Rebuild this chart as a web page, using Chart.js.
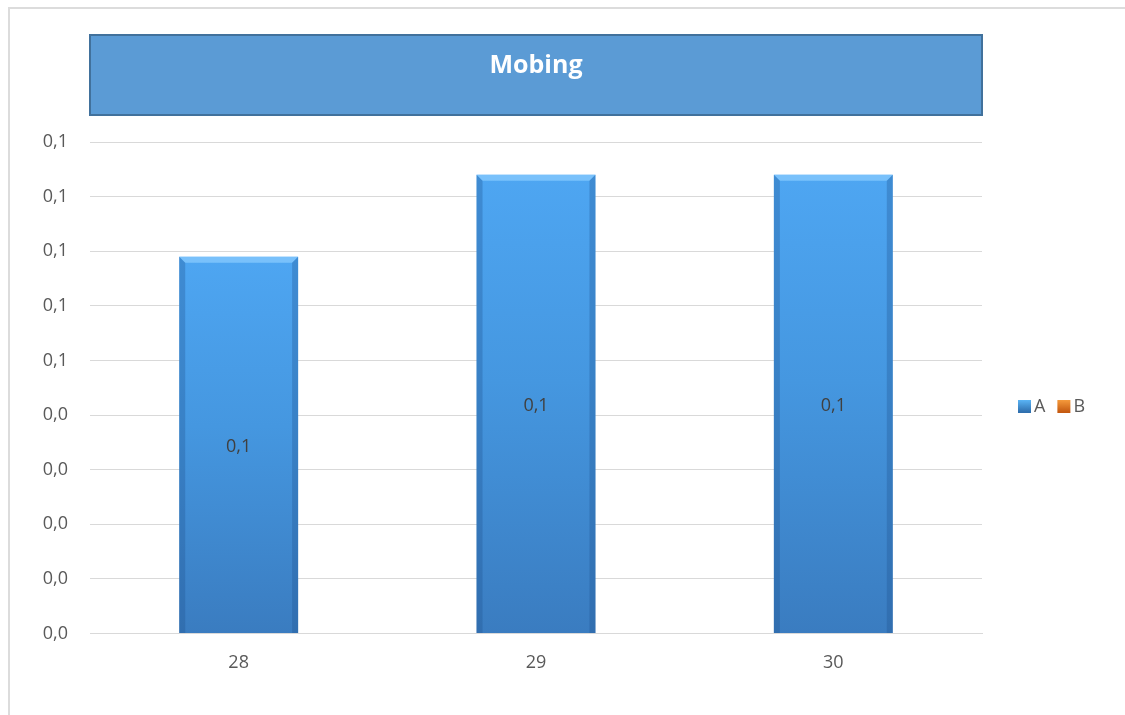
<!DOCTYPE html>
<html lang="en">
<head>
  <meta charset="UTF-8">
  <title>Mobing</title>
  <style>
    body { margin: 0; background: #fff; }
    .wrap { position: relative; width: 1125px; height: 715px; }
    .frame {
      position: absolute; left: 8px; top: 7px; right: 0; bottom: 0;
      border-top: 2px solid #dcdcdc; border-left: 2px solid #dcdcdc;
      pointer-events: none;
    }
  </style>
</head>
<body>
  <div class="wrap">
    <canvas id="myChart" width="1125" height="715"></canvas>
    <div class="frame"></div>
  </div>

<script src="https://cdn.jsdelivr.net/npm/chart.js"></script>
<script>
  const titulo = 'Mobing';
  const dias = ['28', '29', '30'];
  const valoresA = [0.069, 0.084, 0.084];
  const valoresB = [0, 0, 0];
  const yTicks = ['0,0', '0,0', '0,0', '0,0', '0,0', '0,1', '0,1', '0,1', '0,1', '0,1'];

  const fonte = '"Open Sans", "Liberation Sans", sans-serif';
  const virgula = v => v.toFixed(1).replace('.', ',');

  // degradê vertical de cada barra
  function corBarra(ctx) {
    const chart = ctx.chart;
    const y = chart.scales.y;
    if (!y || !chart.chartArea || ctx.raw == null) return '#4597e0';
    const top = y.getPixelForValue(ctx.raw);
    const base = y.getPixelForValue(0);
    if (!isFinite(top) || !isFinite(base) || top === base) return '#4597e0';
    const g = chart.ctx.createLinearGradient(0, top, 0, base);
    g.addColorStop(0, '#4ea6f2');
    g.addColorStop(0.45, '#4597e0');
    g.addColorStop(1, '#3a7cc0');
    return g;
  }

  // caixa azul do título
  const caixaTitulo = {
    id: 'caixaTitulo',
    beforeDraw(chart) {
      const c = chart.ctx, a = chart.chartArea;
      c.save();
      c.fillStyle = '#5b9bd5';
      c.fillRect(a.left, 35, a.right - a.left, 80);
      c.strokeStyle = '#41719c';
      c.lineWidth = 2;
      c.strokeRect(a.left, 35, a.right - a.left, 80);
      c.fillStyle = '#fff';
      c.font = 'bold 25px ' + fonte;
      c.textAlign = 'center';
      c.textBaseline = 'middle';
      c.fillText(titulo, (a.left + a.right) / 2, 66);
      c.restore();
    }
  };

  // chanfro das barras e rótulos de valor
  const chanfro = {
    id: 'chanfro',
    afterDatasetsDraw(chart) {
      const c = chart.ctx;
      const meta = chart.getDatasetMeta(0);
      c.save();
      meta.data.forEach((bar, i) => {
        const { x, y, base, width } = bar.getProps(['x', 'y', 'base', 'width'], true);
        const l = x - width / 2, r = x + width / 2, b = 6;
        // topo claro
        c.fillStyle = 'rgba(140,205,255,0.7)';
        c.beginPath();
        c.moveTo(l, y); c.lineTo(r, y); c.lineTo(r - b, y + b); c.lineTo(l + b, y + b);
        c.closePath(); c.fill();
        // laterais escuras
        c.fillStyle = 'rgba(30,80,140,0.3)';
        c.beginPath();
        c.moveTo(l, y); c.lineTo(l + b, y + b); c.lineTo(l + b, base); c.lineTo(l, base);
        c.closePath(); c.fill();
        c.beginPath();
        c.moveTo(r, y); c.lineTo(r - b, y + b); c.lineTo(r - b, base); c.lineTo(r, base);
        c.closePath(); c.fill();
        // rótulo
        c.fillStyle = '#404040';
        c.font = '18px ' + fonte;
        c.textAlign = 'center';
        c.textBaseline = 'middle';
        c.fillText(virgula(chart.data.datasets[0].data[i]), x, (y + base) / 2 + 2);
      });
      c.restore();
    }
  };

  // legenda à direita, itens lado a lado
  const legenda = {
    id: 'legenda',
    afterDraw(chart) {
      const c = chart.ctx, a = chart.chartArea;
      let x = a.right + 36;
      const yc = 406;
      c.save();
      c.font = '18px ' + fonte;
      c.textBaseline = 'middle';
      chart.data.datasets.forEach(ds => {
        const g = c.createLinearGradient(0, yc - 6, 0, yc + 6);
        g.addColorStop(0, ds.legendTop);
        g.addColorStop(1, ds.legendBottom);
        c.fillStyle = g;
        c.fillRect(x, yc - 6, 13, 13);
        c.fillStyle = '#595959';
        c.fillText(ds.label, x + 16, yc + 1);
        x += 16 + c.measureText(ds.label).width + 12;
      });
      c.restore();
    }
  };

  const ctx = document.getElementById('myChart');
  new Chart(ctx, {
    type: 'bar',
    data: {
      labels: dias,
      datasets: [{
        label: 'A',
        data: valoresA,
        backgroundColor: corBarra,
        borderWidth: 0,
        legendTop: '#5ab4f5',
        legendBottom: '#2f6fae'
      }, {
        label: 'B',
        data: valoresB,
        backgroundColor: '#ed7d31',
        borderWidth: 0,
        legendTop: '#f59a3c',
        legendBottom: '#c55a11'
      }]
    },
    options: {
      responsive: false,
      animation: false,
      datasets: { bar: { grouped: false, categoryPercentage: 1, barPercentage: 0.4 } },
      layout: { padding: { top: 142, right: 143, bottom: 30, left: 0 } },
      plugins: {
        legend: { display: false },
        title: { display: false },
        tooltip: { enabled: false }
      },
      scales: {
        x: {
          grid: { display: false },
          border: { display: true, color: '#d9d9d9' },
          ticks: { color: '#595959', font: { family: fonte, size: 18 }, padding: 11 }
        },
        y: {
          min: 0,
          max: 0.09,
          afterFit(s) { s.width = 90; },
          border: { display: false },
          grid: { color: '#d9d9d9', drawTicks: false },
          ticks: {
            stepSize: 0.01,
            padding: 22,
            color: '#595959',
            font: { family: fonte, size: 18 },
            callback: (v, i) => yTicks[i]
          }
        }
      }
    },
    plugins: [caixaTitulo, chanfro, legenda]
  });
</script>
</body>
</html>
